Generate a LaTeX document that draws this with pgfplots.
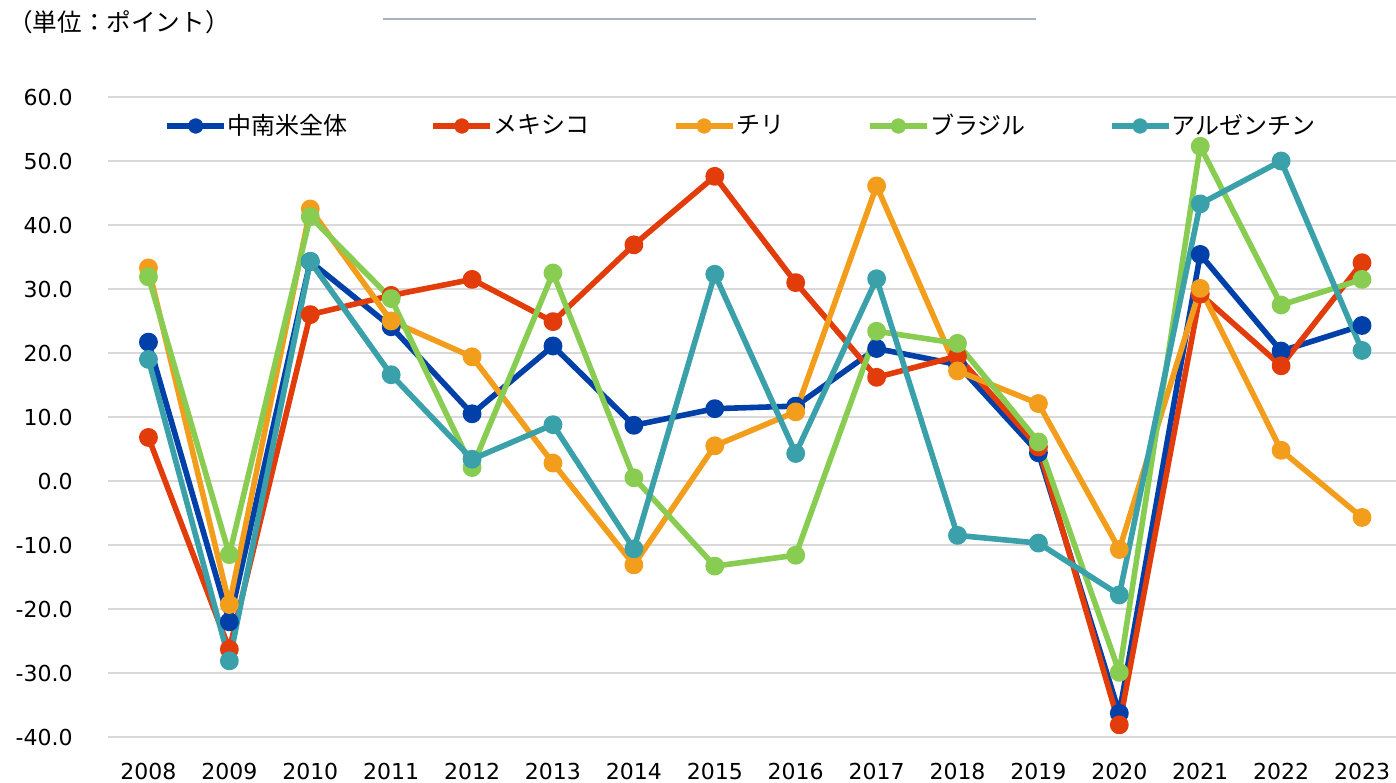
\documentclass[border=0pt]{standalone}
\usepackage{pgfplots}
\usepackage{pgfplotstable}
\pgfplotsset{compat=1.18}
\usepackage{fontspec}
\setmainfont{DejaVu Sans}
\newfontfamily\jp{Noto Sans CJK JP}
\definecolor{cBlue}{RGB}{0,64,168}
\definecolor{cRed}{RGB}{226,60,10}
\definecolor{cOrange}{RGB}{243,157,28}
\definecolor{cGreen}{RGB}{137,204,82}
\definecolor{cTeal}{RGB}{58,160,170}
\definecolor{cGrid}{RGB}{217,217,217}
\definecolor{cTop}{RGB}{169,176,196}

\pgfplotstableread{
x all mex chl bra arg
0 21.7 6.8 33.3 31.9 19.0
1 -22.0 -26.3 -19.3 -11.5 -28.1
2 34.3 26.0 42.5 41.3 34.3
3 24.1 29.0 25.0 28.5 16.6
4 10.5 31.5 19.4 2.1 3.4
5 21.1 24.9 2.8 32.5 8.8
6 8.7 36.9 -13.1 0.5 -10.6
7 11.3 47.6 5.5 -13.3 32.3
8 11.7 31.0 10.8 -11.6 4.3
9 20.7 16.2 46.1 23.4 31.6
10 18.2 19.5 17.2 21.5 -8.5
11 4.4 5.3 12.1 6.1 -9.7
12 -36.3 -38.1 -10.7 -29.9 -17.8
13 35.4 29.2 30.1 52.3 43.3
14 20.3 18.0 4.8 27.5 50.0
15 24.3 34.1 -5.7 31.5 20.4
}\datatable

\begin{document}
\begin{tikzpicture}
\useasboundingbox (0,0) rectangle (698bp,391.5bp);
\node[anchor=west, inner sep=0pt, font=\jp\fontsize{12.3bp}{14bp}\selectfont] at (4bp,380.5bp) {（単位：ポイント）};
\draw[color=cTop, line width=1bp] (191.5bp,382bp) -- (518bp,382bp);
\begin{axis}[
  at={(54bp,23bp)}, anchor=south west,
  scale only axis, width=644bp, height=320bp,
  xmin=-0.5, xmax=15.42, ymin=-40, ymax=60,
  clip=false,
  axis line style={draw=none},
  major tick length=0pt,
  ymajorgrids, grid style={color=cGrid, line width=1bp},
  ytick={-40,-30,...,60},
  yticklabels={-40.0,-30.0,-20.0,-10.0,0.0,10.0,20.0,30.0,40.0,50.0,60.0},
  xtick={0,...,15},
  xticklabels={2008,2009,2010,2011,2012,2013,2014,2015,2016,2017,2018,2019,2020,2021,2022,2023},
  yticklabel style={anchor=east, inner sep=0pt, xshift=-17.5bp, font=\fontsize{11bp}{13bp}\selectfont},
  xticklabel style={anchor=north, inner sep=0pt, yshift=-13bp, font=\fontsize{11bp}{13bp}\selectfont},
  every axis plot/.append style={line width=2.8bp, line join=round, mark=*, mark size=3.3bp},
  legend columns=-1,
  legend style={
    at={(rel axis cs:0.0435,0.9547)}, anchor=west,
    draw=none, fill=none, inner sep=0pt,
    nodes={inner sep=0pt},
    font=\jp\fontsize{12bp}{14bp}\selectfont,
    /tikz/every odd column/.append style={column sep=0.3bp},
    /tikz/every even column/.append style={column sep=41.5bp},
  },
  legend image code/.code={
    \draw[mark repeat=2, mark phase=2, mark size=2.5bp] plot coordinates {(0bp,0bp) (14.25bp,0bp) (28.5bp,0bp)};
  },
]
\addplot[color=cBlue, mark options={fill=cBlue}] table[x=x, y=all] {\datatable};
\addlegendentry{中南米全体}
\addplot[color=cRed, mark options={fill=cRed}] table[x=x, y=mex] {\datatable};
\addlegendentry{メキシコ}
\addplot[color=cOrange, mark options={fill=cOrange}] table[x=x, y=chl] {\datatable};
\addlegendentry{チリ}
\addplot[color=cGreen, mark options={fill=cGreen}] table[x=x, y=bra] {\datatable};
\addlegendentry{ブラジル}
\addplot[color=cTeal, mark options={fill=cTeal}] table[x=x, y=arg] {\datatable};
\addlegendentry{アルゼンチン}
\end{axis}
\end{tikzpicture}
\end{document}
